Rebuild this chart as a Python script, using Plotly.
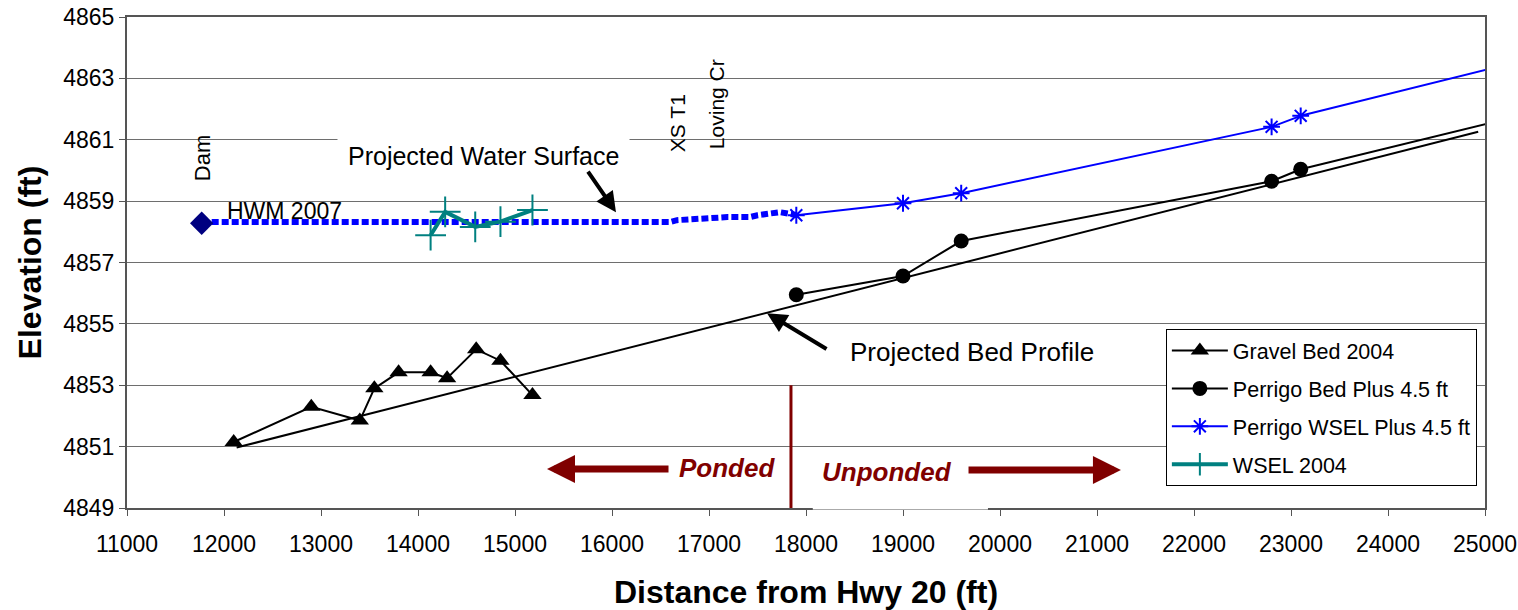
import plotly.graph_objects as go

# ---------------- data ----------------
gravel_x = [12100, 12900, 13400, 13550, 13800, 14130, 14300, 14600, 14850, 15180]
gravel_y = [4851.15, 4852.3, 4851.85, 4852.9, 4853.42, 4853.42, 4853.23, 4854.17, 4853.8, 4852.68]

proj_bed_x = [12130, 24930]
proj_bed_y = [4850.97, 4861.26]

perrigo_bed_x = [17900, 19000, 19600, 22800, 23100]
perrigo_bed_y = [4855.95, 4856.56, 4857.70, 4859.65, 4860.04]
perrigo_bed_ext_x = [23100, 25100]
perrigo_bed_ext_y = [4860.04, 4861.58]

perrigo_wsel_x = [17900, 19000, 19600, 22800, 23100]
perrigo_wsel_y = [4858.54, 4858.93, 4859.26, 4861.42, 4861.78]
perrigo_wsel_ext_x = [23100, 25100]
perrigo_wsel_ext_y = [4861.78, 4863.35]

proj_ws_x = [11770, 16600, 16670, 16940, 17190, 17420, 17500, 17730, 17870, 17900]
proj_ws_y = [4858.32, 4858.32, 4858.38, 4858.45, 4858.48, 4858.48, 4858.54, 4858.64, 4858.60, 4858.55]

hwm_x = [11770]
hwm_y = [4858.28]

wsel04_x = [14130, 14280, 14590, 14850, 15180]
wsel04_y = [4857.89, 4858.65, 4858.16, 4858.33, 4858.71]

x_ticks = list(range(11000, 25001, 1000))
y_ticks = list(range(4849, 4866, 2))

FONT = "Liberation Sans, Arial, sans-serif"
DARKRED = "#800000"

fig = go.Figure()

fig.add_trace(go.Scatter(x=proj_bed_x, y=proj_bed_y, mode="lines",
                         line=dict(color="black", width=2), showlegend=False, hoverinfo="skip"))
fig.add_trace(go.Scatter(x=gravel_x, y=gravel_y, mode="lines+markers", name="Gravel Bed 2004",
                         legendgroup="g1",
                         line=dict(color="black", width=2),
                         marker=dict(symbol="triangle-up", size=16, color="black")))
fig.add_trace(go.Scatter(x=perrigo_bed_ext_x, y=perrigo_bed_ext_y, mode="lines",
                         line=dict(color="black", width=2), showlegend=False, hoverinfo="skip"))
fig.add_trace(go.Scatter(x=perrigo_bed_x, y=perrigo_bed_y, mode="lines+markers", name="Perrigo Bed Plus 4.5 ft",
                         legendgroup="g2",
                         line=dict(color="black", width=2),
                         marker=dict(symbol="circle", size=15, color="black")))
fig.add_trace(go.Scatter(x=perrigo_wsel_ext_x, y=perrigo_wsel_ext_y, mode="lines",
                         line=dict(color="#0000FF", width=2), showlegend=False, hoverinfo="skip"))
fig.add_trace(go.Scatter(x=perrigo_wsel_x, y=perrigo_wsel_y, mode="lines+markers", name="Perrigo WSEL Plus 4.5 ft",
                         legendgroup="g3",
                         line=dict(color="#0000FF", width=2),
                         marker=dict(symbol="asterisk-open", size=14, color="#0000FF",
                                     line=dict(color="#0000FF", width=2))))
fig.add_trace(go.Scatter(x=proj_ws_x, y=proj_ws_y, mode="lines",
                         line=dict(color="#0000FF", width=6, dash="7px,3px"),
                         showlegend=False, hoverinfo="skip"))
fig.add_trace(go.Scatter(x=hwm_x, y=hwm_y, mode="markers",
                         marker=dict(symbol="diamond", size=18, color="#000080"),
                         showlegend=False))
fig.add_trace(go.Scatter(x=wsel04_x, y=wsel04_y, mode="lines+markers", name="WSEL 2004",
                         legendgroup="g4",
                         line=dict(color="#008080", width=4),
                         marker=dict(symbol="cross-thin-open", size=22, color="#008080",
                                     line=dict(color="#008080", width=2))))

annotations = [
    dict(x=11773, y=4860.40, text="Dam", textangle=-90, showarrow=False,
         font=dict(size=22, color="black")),
    dict(x=12010, y=4858.67, text="HWM 2007", showarrow=False, xanchor="left",
         font=dict(size=23, color="black")),
    dict(x=13170, y=4860.47, text="Projected Water Surface", showarrow=False, xanchor="left",
         bgcolor="white", borderpad=10, font=dict(size=25, color="black")),
    dict(x=16041, y=4858.64, ax=15742, ay=4860.01, axref="x", ayref="y", text="",
         showarrow=True, arrowhead=2, arrowwidth=4, arrowsize=1, arrowcolor="black"),
    dict(x=16670, y=4861.54, text="XS T1", textangle=-90, showarrow=False,
         font=dict(size=21, color="black")),
    dict(x=17072, y=4862.16, text="Loving Cr", textangle=-90, showarrow=False,
         font=dict(size=21, color="black")),
    dict(x=18433, y=4854.08, text="Projected Bed Profile", showarrow=False, xanchor="left",
         font=dict(size=26, color="black")),
    dict(x=17598, y=4855.35, ax=18227, ay=4854.15, axref="x", ayref="y", text="",
         showarrow=True, arrowhead=2, arrowwidth=4, arrowsize=1, arrowcolor="black"),
    dict(x=17701, y=4850.30, text="<b><i>Ponded</i></b>", showarrow=False, xanchor="right",
         font=dict(size=26, color=DARKRED)),
    dict(x=18840, y=4850.17, text="<b><i>Unponded</i></b>", showarrow=False,
         font=dict(size=26, color=DARKRED)),
    dict(x=15330, y=4850.27, ax=16598, ay=4850.27, axref="x", ayref="y", text="",
         showarrow=True, arrowhead=2, arrowwidth=7, arrowsize=0.8, arrowcolor=DARKRED),
    dict(x=21247, y=4850.24, ax=19660, ay=4850.24, axref="x", ayref="y", text="",
         showarrow=True, arrowhead=2, arrowwidth=7, arrowsize=0.8, arrowcolor=DARKRED),
]

shapes = [
    dict(type="line", x0=17845, x1=17845, y0=4849, y1=4853, xref="x", yref="y",
         line=dict(color=DARKRED, width=3)),
    # white text-box background of "Unponded" hiding part of the bottom axis line
    dict(type="rect", xref="paper", yref="paper", x0=0.505, x1=0.634, y0=-0.003, y1=0.004,
         fillcolor="white", line=dict(width=0), layer="above"),
]

fig.update_layout(
    width=1518, height=610,
    margin=dict(l=127, r=33, t=17, b=102),
    paper_bgcolor="white", plot_bgcolor="white",
    font=dict(family=FONT, size=21, color="black"),
    annotations=annotations, shapes=shapes,
    legend=dict(x=0.765, y=0.3646, xanchor="left", yanchor="top",
                bordercolor="black", borderwidth=1, bgcolor="white",
                font=dict(size=21.5), tracegroupgap=7, itemwidth=56),
)

fig.update_xaxes(
    range=[11000, 25000], tickvals=x_ticks, ticktext=[str(v) for v in x_ticks],
    showgrid=False, zeroline=False, automargin=False,
    showline=True, linecolor="#555555", linewidth=2, mirror=True,
    ticks="outside", ticklen=6, tickcolor="#555555", tickwidth=1,
    ticklabelstandoff=8,
    tickfont=dict(size=23, family=FONT),
    title=dict(text="<b>Distance from Hwy 20 (ft)</b>", font=dict(size=32, family=FONT), standoff=28),
)
fig.update_yaxes(
    range=[4849, 4865], tickvals=y_ticks, ticktext=[str(v) for v in y_ticks],
    showgrid=True, gridcolor="#6e6e6e", gridwidth=1, zeroline=False, automargin=False,
    showline=True, linecolor="#555555", linewidth=2, mirror=True,
    ticks="outside", ticklen=6, tickcolor="#555555", tickwidth=1,
    tickfont=dict(size=23, family=FONT),
    title=dict(text="<b>Elevation (ft)</b>", font=dict(size=32, family=FONT), standoff=12),
)

fig.write_html("out.html")
